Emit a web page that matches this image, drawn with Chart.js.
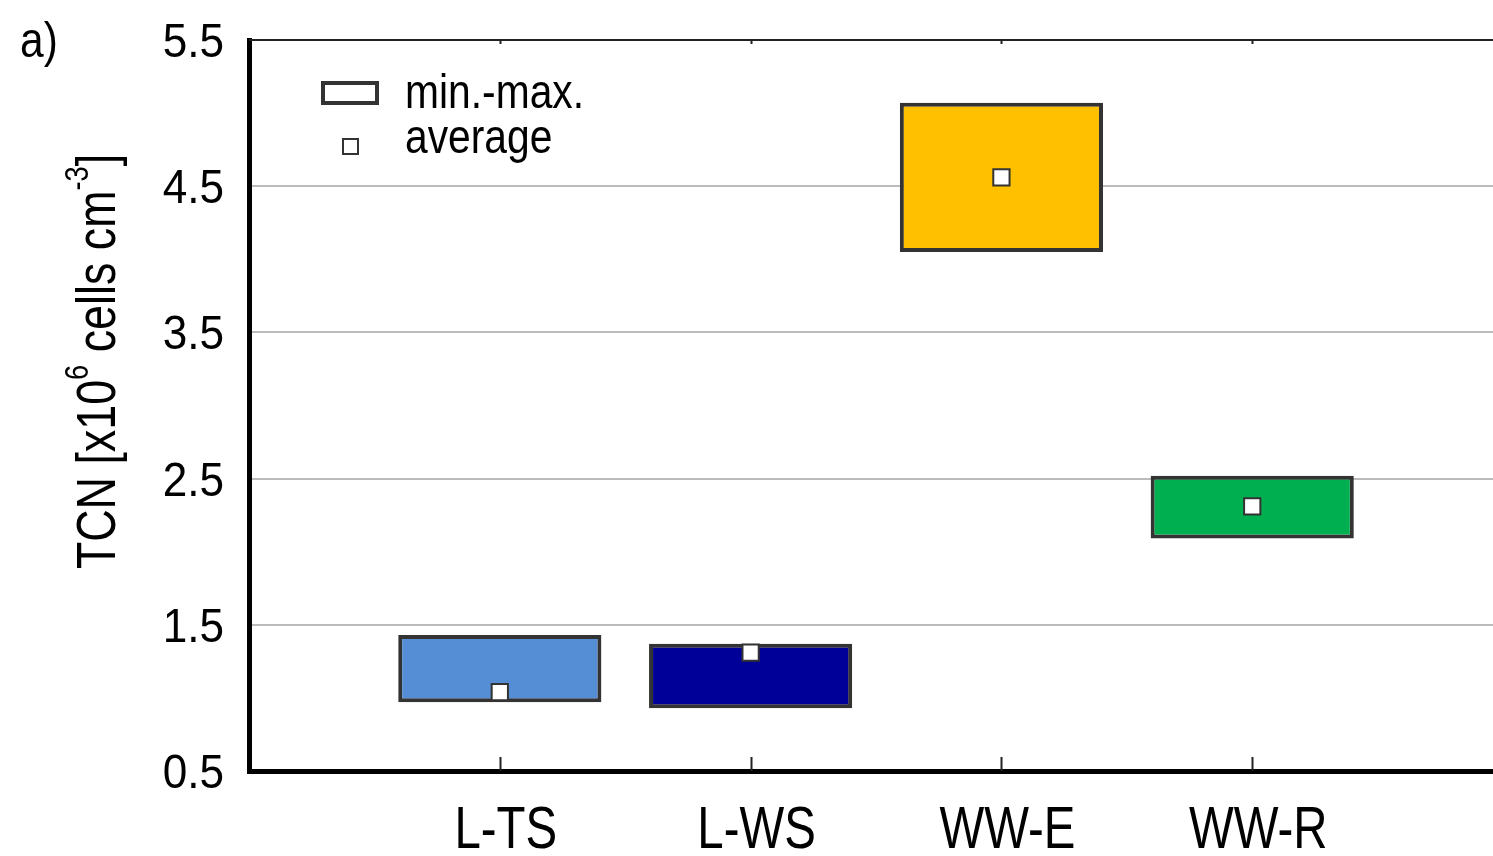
<!DOCTYPE html>
<html>
<head>
<meta charset="utf-8">
<script src="https://cdn.jsdelivr.net/npm/chart.js@4.4.1/dist/chart.umd.min.js"></script>
<style>
  html, body { margin: 0; padding: 0; background: #fff; overflow: hidden; }
  canvas { display: block; }
</style>
</head>
<body>
<canvas id="tcn" width="1493" height="856"></canvas>
<script>
// Values (TCN, x10^6 cells cm^-3)
var categories = ["L-TS", "L-WS", "WW-E", "WW-R"];
var minValues = [0.97, 0.93, 4.05, 2.09];
var maxValues = [1.43, 1.37, 5.07, 2.52];
var avgValues = [1.04, 1.31, 4.56, 2.31];
var yTicks = [0.5, 1.5, 2.5, 3.5, 4.5, 5.5];
var legendLabels = ["min.-max.", "average"];
var titleParts = [["TCN [x10", false], ["6", true], [" cells cm", false], ["-3", true], ["]", false]];
var panelLabel = "a)";

var barColors = ["#558ed5", "#000099", "#ffc000", "#00b050"];
// no narrow font installed, so text is squeezed horizontally when drawn
var FONT = "'Liberation Sans Narrow', 'Arial Narrow', 'Liberation Sans', Arial, sans-serif";
var edge = "#333333";

var barData = categories.map(function (c, i) {
  return { x: i + 1, y: [minValues[i], maxValues[i]] };
});
var avgData = categories.map(function (c, i) {
  return { x: i + 1, y: avgValues[i] };
});

function squeezed(ctx, text, x, y, font, sx, align) {
  ctx.save();
  ctx.font = font;
  var w = ctx.measureText(text).width * sx;
  var left = align === "center" ? x - w / 2 : align === "right" ? x - w : x;
  ctx.translate(left, y);
  ctx.scale(sx, 1);
  ctx.textAlign = "left";
  ctx.fillText(text, 0, 0);
  ctx.restore();
}

// frame bits, tick labels, legend, axis title, panel label
var decor = {
  id: "decor",
  afterDatasetsDraw: function (chart) {
    var ctx = chart.ctx, a = chart.chartArea, xs = chart.scales.x, ys = chart.scales.y;
    ctx.save();
    ctx.strokeStyle = "#222";
    ctx.lineWidth = 2;
    ctx.beginPath();
    ctx.moveTo(a.left, a.top);
    ctx.lineTo(a.right, a.top);
    ctx.stroke();
    categories.forEach(function (c, i) {
      var px = Math.round(xs.getPixelForValue(i + 1)) + 0.5;
      ctx.beginPath();
      ctx.moveTo(px, a.top);
      ctx.lineTo(px, a.top + 4);
      ctx.moveTo(px, a.bottom);
      ctx.lineTo(px, a.bottom - 14);
      ctx.stroke();
    });

    ctx.fillStyle = "#000";
    ctx.textBaseline = "alphabetic";

    // tick labels
    categories.forEach(function (c, i) {
      squeezed(ctx, c, xs.getPixelForValue(i + 1) + 6, a.bottom + 77, "60px " + FONT, 0.79, "center");
    });
    yTicks.forEach(function (v) {
      squeezed(ctx, v.toFixed(1), a.left - 25, ys.getPixelForValue(v) + 17, "49px " + FONT, 0.9, "right");
    });

    // legend
    ctx.fillStyle = "#fff";
    ctx.strokeStyle = edge;
    ctx.lineWidth = 4;
    ctx.fillRect(a.left + 74, a.top + 43, 54, 20);
    ctx.strokeRect(a.left + 74, a.top + 43, 54, 20);
    ctx.lineWidth = 2;
    ctx.fillRect(a.left + 94, a.top + 99, 15, 15);
    ctx.strokeRect(a.left + 94, a.top + 99, 15, 15);
    ctx.fillStyle = "#000";
    squeezed(ctx, legendLabels[0], a.left + 156, a.top + 68, "48px " + FONT, 0.85, "left");
    squeezed(ctx, legendLabels[1], a.left + 156, a.top + 113, "48px " + FONT, 0.85, "left");

    // panel label
    squeezed(ctx, panelLabel, 20, 57, "50px " + FONT, 0.85, "left");

    // y axis title with superscripts
    var big = "56px " + FONT, small = "34px " + FONT, sx = 0.8;
    var total = 0;
    titleParts.forEach(function (p) {
      ctx.font = p[1] ? small : big;
      total += ctx.measureText(p[0]).width;
    });
    ctx.translate(115, (a.top + a.bottom) / 2 - 44);
    ctx.rotate(-Math.PI / 2);
    ctx.scale(sx, 1);
    var x = -total / 2;
    titleParts.forEach(function (p) {
      ctx.font = p[1] ? small : big;
      ctx.fillText(p[0], x, p[1] ? -27 : 0);
      x += ctx.measureText(p[0]).width;
    });
    ctx.restore();
  }
};

new Chart(document.getElementById("tcn"), {
  type: "bar",
  data: {
    datasets: [
      {
        type: "line",
        label: legendLabels[1],
        data: avgData,
        showLine: false,
        pointStyle: "rect",
        pointRadius: 11.5,
        pointBackgroundColor: "#fff",
        pointBorderColor: edge,
        pointBorderWidth: 2,
        order: 0,
      },
      {
        label: legendLabels[0],
        data: barData,
        backgroundColor: barColors,
        borderColor: edge,
        borderWidth: 4,
        borderSkipped: false,
        categoryPercentage: 0.81,
        barPercentage: 1.0,
        order: 1,
      },
    ],
  },
  options: {
    responsive: false,
    animation: false,
    devicePixelRatio: 1,
    layout: { autoPadding: false, padding: { top: 40, right: 0, left: 0, bottom: 0 } },
    plugins: { legend: { display: false }, tooltip: { enabled: false } },
    scales: {
      x: {
        type: "linear",
        offset: false,
        min: 0,
        max: 4.96,
        grid: { display: false, drawTicks: false },
        border: { display: true, color: "#000", width: 5 },
        afterBuildTicks: function (s) {
          s.ticks = categories.map(function (c, i) { return { value: i + 1 }; });
        },
        ticks: { display: false },
        afterFit: function (s) { s.height = 85; },
      },
      y: {
        min: yTicks[0],
        max: yTicks[yTicks.length - 1],
        beginAtZero: false,
        grid: { color: "#bbbbbb", lineWidth: 2, drawTicks: false },
        border: { display: true, color: "#000", width: 5 },
        afterBuildTicks: function (s) {
          s.ticks = yTicks.map(function (v) { return { value: v }; });
        },
        ticks: { display: false },
        afterFit: function (s) { s.width = 249; },
      },
    },
  },
  plugins: [decor],
});
</script>
</body>
</html>
